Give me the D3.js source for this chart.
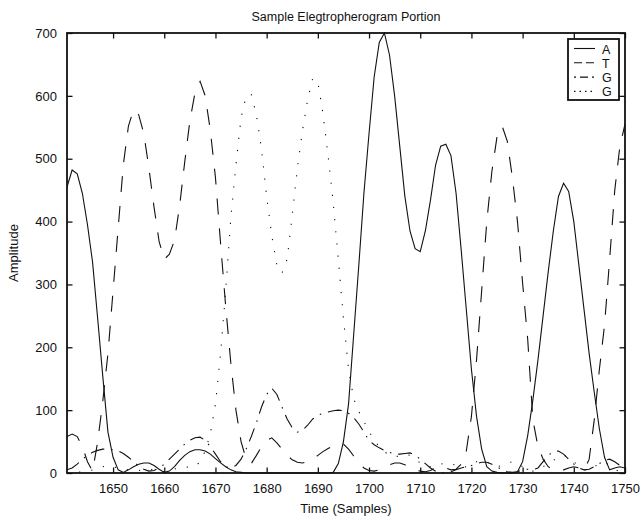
<!DOCTYPE html>
<html>
<head>
<meta charset="utf-8">
<script src="https://cdn.jsdelivr.net/npm/d3@7"></script>
<style>
  body { margin: 0; background: #ffffff; }
  text { font-family: "Liberation Sans", Arial, Helvetica, sans-serif; fill: #111; }
</style>
</head>
<body>
<div id="div_template"></div>
<script>
// *****************************************************************************
// data (one value per sample, samples 1641 .. 1750)
// *****************************************************************************

var firstSample = 1641;

var trace_A = [
  455, 482, 476, 445, 395, 335, 245, 153, 65, 25,
  5, 1, 5, 10, 14, 16, 16, 12, 6, 1,
  3, 10, 20, 28, 34, 37, 37, 35, 30, 23,
  16, 10, 5, 2, 1, 0, 0, 0, 0, 0,
  0, 0, 0, 0, 0, 0, 0, 0, 0, 0,
  0, 0, 1, 15, 50, 110, 220, 330, 445, 540,
  630, 685, 700, 665, 600, 520, 440, 385, 357, 352,
  385, 434, 490, 520, 523, 505, 445, 355, 260, 165,
  90, 38, 10, 3, 1, 0, 0, 0, 2, 18,
  60, 116, 180, 250, 320, 385, 440, 461, 448, 400,
  330, 260, 190, 128, 70, 25, 5, 8, 10, 8
];

var trace_T = [
  58, 62, 58, 42, 18, 3, 50, 115, 190, 290,
  390, 490, 552, 578, 570, 540, 485, 423, 368, 340,
  348, 370, 425, 495, 560, 605, 623, 600, 545, 470,
  365, 265, 175, 100, 50, 22, 15, 28, 42, 52,
  56, 48, 38, 28, 21, 17, 16, 18, 22, 28,
  34, 39, 43, 46, 46, 38, 27, 16, 8, 4,
  3, 5, 9, 13, 16, 16, 13, 9, 5, 3,
  2, 4, 8, 10, 8, 5, 6, 14, 35, 90,
  180, 290, 400, 480, 535, 552, 528, 470, 400, 302,
  212, 85, 42, 22, 10, 5, 3, 5, 8, 10,
  8, 4, 22, 85, 165, 235, 340, 450, 520, 555
];

var trace_G1 = [
  5, 8, 14, 22, 28, 33, 36, 38, 38, 37,
  35, 31, 25, 18, 11, 6, 3, 4, 8, 14,
  22, 30, 38, 46, 52, 56, 57, 52, 42, 30,
  18, 10, 8, 12, 22, 38, 58, 80, 105, 125,
  135, 125, 105, 86, 72, 65, 68, 76, 86, 92,
  95, 97, 99, 100, 99, 95, 88, 78, 65, 52,
  45, 40, 36, 33, 30, 30, 31, 32, 28, 22,
  15, 8, 3, 1, 0, 2, 5, 8, 10, 12,
  15, 17, 17, 14, 10, 5, 2, 1, 2, 5,
  6, 5, 8, 18, 28, 34, 35, 30, 22, 14,
  8, 5, 6, 10, 15, 20, 22, 18, 12, 6
];

var trace_G2 = [
  0, 0, 1, 2, 3, 5, 8, 10, 11, 10,
  8, 6, 5, 4, 4, 5, 6, 5, 3, 2,
  3, 6, 9, 10, 9, 10, 18, 35, 62, 110,
  190, 290, 405, 490, 565, 600, 602, 570, 515, 440,
  378, 330, 318, 340, 410, 485, 545, 593, 628, 622,
  572, 505, 430, 340, 246, 165, 118, 98, 82, 66,
  52, 42, 34, 28, 26, 27, 30, 28, 22, 16,
  12, 10, 11, 14, 16, 15, 12, 9, 10, 14,
  18, 20, 18, 14, 10, 12, 16, 18, 15, 10,
  5, 3, 5, 10, 15, 20, 25, 28, 25, 18,
  10, 5, 5, 10, 15, 17, 12, 6, 2, 0
];

var legend_labels = ["A", "T", "G", "G"];
var x_ticks = [1650, 1660, 1670, 1680, 1690, 1700, 1710, 1720, 1730, 1740, 1750];
var y_ticks = [0, 100, 200, 300, 400, 500, 600, 700];

var series = [
  { label: legend_labels[0], values: trace_A, dash: null, legendDash: null },
  { label: legend_labels[1], values: trace_T, dash: "16,14", legendDash: "8,4" },
  { label: legend_labels[2], values: trace_G1, dash: "14,7,1.5,7", legendDash: "2,4,8,4" },
  { label: legend_labels[3], values: trace_G2, dash: "1.2,11", legendDash: "1.5,4" }
];

// *****************************************************************************
// set the dimensions and margins of the graph
// *****************************************************************************

var margin = { top: 33, right: 18, bottom: 52, left: 67 },
  width = 643 - margin.left - margin.right,
  height = 525 - margin.top - margin.bottom;

var svg = d3
  .select("#div_template")
  .append("svg")
  .attr("width", 643)
  .attr("height", 525)
  .append("g")
  .attr("transform", "translate(" + margin.left + "," + margin.top + ")");

svg.append("rect").attr("x", -margin.left).attr("y", -margin.top)
  .attr("width", 643).attr("height", 525).attr("fill", "white");

svg.append("clipPath").attr("id", "plotclip")
  .append("rect").attr("x", 0).attr("y", -1).attr("width", width).attr("height", height + 2);

// *****************************************************************************
// scales
// *****************************************************************************

var x = d3.scaleLinear().domain([firstSample, 1750]).range([0, width]);
var y = d3.scaleLinear().domain([0, 700]).range([height, 0]);

// *****************************************************************************
// axes (ticks on all four sides, pointing inward)
// *****************************************************************************

var tickLen = 5.5;
var fmt = d3.format("d");

svg.append("g")
  .attr("transform", "translate(0," + height + ")")
  .call(d3.axisBottom(x).tickValues(x_ticks).tickFormat(fmt).tickSizeInner(-tickLen).tickSizeOuter(0).tickPadding(11))
  .call(styleAxis);

svg.append("g")
  .call(d3.axisTop(x).tickValues(x_ticks).tickSizeInner(-tickLen).tickSizeOuter(0).tickFormat(""))
  .call(styleAxis);

svg.append("g")
  .call(d3.axisLeft(y).tickValues(y_ticks).tickFormat(fmt).tickSizeInner(-tickLen).tickSizeOuter(0).tickPadding(10))
  .call(styleAxis);

svg.append("g")
  .attr("transform", "translate(" + width + ",0)")
  .call(d3.axisRight(y).tickValues(y_ticks).tickSizeInner(-tickLen).tickSizeOuter(0).tickFormat(""))
  .call(styleAxis);

function styleAxis(g) {
  g.select(".domain").remove();
  g.selectAll(".tick line").attr("stroke", "#111").attr("stroke-width", 1.3);
  g.selectAll(".tick text")
    .style("font-family", "Liberation Sans, Arial, sans-serif")
    .style("font-size", "13px")
    .attr("fill", "#111");
}

// *****************************************************************************
// lines
// *****************************************************************************

var line = d3.line()
  .x(function (d, i) { return x(firstSample + i); })
  .y(function (d) { return y(d); });

var plot = svg.append("g").attr("clip-path", "url(#plotclip)");

series.forEach(function (s) {
  plot.append("path")
    .datum(s.values)
    .attr("fill", "none")
    .attr("stroke", "#111")
    .attr("stroke-width", 1.1)
    .attr("stroke-dasharray", s.dash)
    .attr("d", line);
});

// box
svg.append("rect")
  .attr("width", width).attr("height", height)
  .attr("fill", "none").attr("stroke", "#111").attr("stroke-width", 1.8);

// *****************************************************************************
// titles
// *****************************************************************************

svg.append("text")
  .attr("x", width / 2).attr("y", -12)
  .attr("text-anchor", "middle")
  .style("font-size", "12.5px")
  .text("Sample Elegtropherogram Portion");

svg.append("text")
  .attr("x", width / 2).attr("y", height + 40)
  .attr("text-anchor", "middle")
  .style("font-size", "13px")
  .text("Time (Samples)");

svg.append("text")
  .attr("transform", "translate(" + (-49) + "," + (height / 2) + ") rotate(-90)")
  .attr("text-anchor", "middle")
  .style("font-size", "13px")
  .text("Amplitude");

// *****************************************************************************
// legend
// *****************************************************************************

var legend = svg.append("g").attr("transform", "translate(" + (width - 57) + ",6)");

legend.append("rect")
  .attr("width", 51).attr("height", 61)
  .attr("fill", "white").attr("stroke", "#111").attr("stroke-width", 1.8);

series.forEach(function (s, i) {
  var ly = 9.5 + i * 14.3;
  legend.append("line")
    .attr("x1", 6).attr("x2", 27)
    .attr("y1", ly).attr("y2", ly)
    .attr("stroke", "#111").attr("stroke-width", 1.1)
    .attr("stroke-dasharray", s.legendDash);
  legend.append("text")
    .attr("x", 34).attr("y", ly + 5)
    .style("font-size", "12.5px")
    .text(s.label);
});
</script>
</body>
</html>
